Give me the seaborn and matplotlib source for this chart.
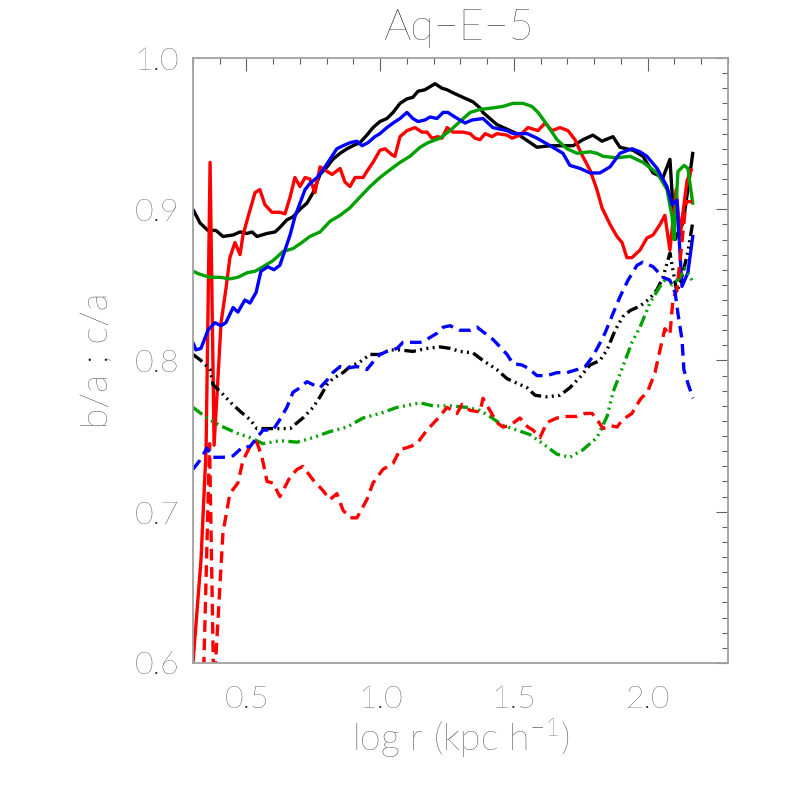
import numpy as np
import pandas as pd
import seaborn as sns
import matplotlib.pyplot as plt
from matplotlib.ticker import MultipleLocator, FormatStrFormatter

# b/a (solid) curves
bk_x = [0.300, 0.326, 0.356, 0.386, 0.412, 0.450, 0.476, 0.502, 0.521, 0.539, 0.577, 0.607, 0.625, 0.651,
        0.674, 0.700, 0.726, 0.749, 0.775, 0.801, 0.823, 0.850, 0.876, 0.898, 0.924, 0.950, 0.973, 0.999,
        1.025, 1.048, 1.074, 1.100, 1.122, 1.141, 1.167, 1.205, 1.231, 1.250, 1.272, 1.309, 1.347, 1.373,
        1.384, 1.436, 1.511, 1.586, 1.635, 1.721, 1.758, 1.795, 1.829, 1.870, 1.896, 1.945, 1.982, 2.020,
        2.057, 2.083, 2.102, 2.132, 2.150, 2.169]
bk_y = [0.900, 0.891, 0.886, 0.886, 0.882, 0.883, 0.885, 0.884, 0.885, 0.882, 0.884, 0.885, 0.888, 0.893,
        0.895, 0.900, 0.904, 0.911, 0.923, 0.928, 0.933, 0.937, 0.940, 0.942, 0.944, 0.949, 0.954, 0.958,
        0.960, 0.964, 0.970, 0.973, 0.974, 0.978, 0.979, 0.983, 0.980, 0.979, 0.977, 0.974, 0.971, 0.967,
        0.964, 0.956, 0.950, 0.941, 0.942, 0.942, 0.946, 0.949, 0.945, 0.948, 0.941, 0.939, 0.935, 0.924,
        0.921, 0.933, 0.880, 0.891, 0.913, 0.938]

bl_x = [0.300, 0.311, 0.330, 0.356, 0.382, 0.405, 0.423, 0.450, 0.468, 0.494, 0.513, 0.536, 0.554, 0.580,
        0.603, 0.625, 0.644, 0.663, 0.681, 0.700, 0.719, 0.737, 0.764, 0.786, 0.812, 0.838, 0.861, 0.887,
        0.913, 0.932, 0.954, 0.980, 0.999, 1.025, 1.048, 1.074, 1.100, 1.122, 1.141, 1.167, 1.186, 1.212,
        1.235, 1.253, 1.279, 1.317, 1.343, 1.384, 1.421, 1.474, 1.496, 1.549, 1.586, 1.635, 1.683, 1.709,
        1.747, 1.784, 1.821, 1.859, 1.896, 1.941, 1.971, 1.997, 2.035, 2.072, 2.091, 2.109, 2.128, 2.150,
        2.169]
bl_y = [0.812, 0.807, 0.808, 0.820, 0.825, 0.823, 0.825, 0.835, 0.832, 0.840, 0.838, 0.845, 0.859, 0.862,
        0.860, 0.863, 0.873, 0.883, 0.895, 0.904, 0.913, 0.917, 0.921, 0.926, 0.933, 0.940, 0.942, 0.944,
        0.945, 0.942, 0.944, 0.948, 0.950, 0.954, 0.957, 0.960, 0.964, 0.960, 0.958, 0.959, 0.961, 0.960,
        0.964, 0.964, 0.961, 0.957, 0.959, 0.960, 0.954, 0.952, 0.950, 0.950, 0.947, 0.942, 0.937, 0.929,
        0.927, 0.924, 0.924, 0.928, 0.937, 0.940, 0.938, 0.935, 0.927, 0.915, 0.903, 0.906, 0.849, 0.858,
        0.883]

gr_x = [0.300, 0.326, 0.364, 0.401, 0.438, 0.468, 0.502, 0.532, 0.562, 0.599, 0.636, 0.674, 0.707, 0.737,
        0.775, 0.812, 0.850, 0.887, 0.924, 0.962, 0.999, 1.036, 1.074, 1.111, 1.149, 1.178, 1.223, 1.261,
        1.298, 1.336, 1.373, 1.421, 1.459, 1.496, 1.534, 1.567, 1.590, 1.623, 1.661, 1.698, 1.736, 1.784,
        1.810, 1.833, 1.885, 1.934, 1.982, 2.035, 2.072, 2.091, 2.098, 2.113, 2.136, 2.150, 2.169]
gr_y = [0.859, 0.857, 0.855, 0.855, 0.854, 0.855, 0.858, 0.859, 0.862, 0.866, 0.872, 0.874, 0.878, 0.882,
        0.885, 0.892, 0.896, 0.901, 0.908, 0.915, 0.921, 0.926, 0.931, 0.935, 0.941, 0.944, 0.947, 0.952,
        0.958, 0.964, 0.966, 0.967, 0.968, 0.970, 0.970, 0.968, 0.964, 0.956, 0.946, 0.940, 0.937, 0.938,
        0.937, 0.935, 0.934, 0.935, 0.931, 0.924, 0.913, 0.895, 0.880, 0.925, 0.929, 0.927, 0.903]

rd_x = [0.300, 0.330, 0.349, 0.364, 0.379, 0.393, 0.405, 0.423, 0.438, 0.457, 0.476, 0.487, 0.506, 0.532,
        0.550, 0.569, 0.595, 0.625, 0.644, 0.663, 0.681, 0.700, 0.719, 0.737, 0.756, 0.775, 0.793, 0.820,
        0.850, 0.868, 0.887, 0.906, 0.936, 0.950, 0.973, 0.999, 1.018, 1.044, 1.055, 1.074, 1.100, 1.130,
        1.156, 1.175, 1.193, 1.216, 1.231, 1.250, 1.272, 1.309, 1.336, 1.354, 1.373, 1.392, 1.418, 1.436,
        1.474, 1.493, 1.522, 1.552, 1.590, 1.616, 1.642, 1.672, 1.702, 1.728, 1.754, 1.784, 1.810, 1.829,
        1.859, 1.885, 1.904, 1.922, 1.941, 1.971, 1.997, 2.020, 2.046, 2.064, 2.083, 2.106, 2.121, 2.147,
        2.165]
rd_y = [0.600, 0.668, 0.741, 0.931, 0.744, 0.787, 0.825, 0.847, 0.868, 0.878, 0.870, 0.883, 0.895, 0.911,
        0.913, 0.903, 0.898, 0.898, 0.897, 0.908, 0.921, 0.915, 0.921, 0.920, 0.911, 0.928, 0.926, 0.923,
        0.927, 0.918, 0.915, 0.921, 0.921, 0.925, 0.931, 0.939, 0.940, 0.936, 0.935, 0.948, 0.952, 0.954,
        0.951, 0.951, 0.947, 0.948, 0.947, 0.954, 0.951, 0.951, 0.950, 0.947, 0.946, 0.950, 0.948, 0.950,
        0.949, 0.947, 0.949, 0.954, 0.952, 0.957, 0.952, 0.954, 0.952, 0.946, 0.936, 0.926, 0.913, 0.901,
        0.890, 0.882, 0.878, 0.868, 0.868, 0.873, 0.881, 0.883, 0.890, 0.896, 0.873, 0.913, 0.883, 0.919,
        0.927]

# c/a (broken) curves
bkc_x = [0.300, 0.330, 0.364, 0.375, 0.405, 0.442, 0.479, 0.513, 0.539, 0.599, 0.663, 0.711, 0.749, 0.775,
         0.801, 0.823, 0.861, 0.887, 0.924, 0.962, 0.999, 1.036, 1.074, 1.122, 1.175, 1.223, 1.261, 1.298,
         1.347, 1.384, 1.436, 1.474, 1.511, 1.549, 1.579, 1.623, 1.672, 1.709, 1.747, 1.784, 1.821, 1.848,
         1.878, 1.907, 1.934, 1.971, 2.008, 2.035, 2.057, 2.083, 2.109, 2.132, 2.150, 2.169]
bkc_y = [0.804, 0.800, 0.794, 0.784, 0.779, 0.772, 0.766, 0.761, 0.755, 0.755, 0.755, 0.762, 0.769, 0.776,
         0.784, 0.788, 0.792, 0.796, 0.799, 0.804, 0.804, 0.807, 0.807, 0.806, 0.808, 0.809, 0.808, 0.806,
         0.805, 0.800, 0.794, 0.788, 0.785, 0.782, 0.777, 0.776, 0.777, 0.782, 0.789, 0.797, 0.800, 0.807,
         0.820, 0.829, 0.833, 0.836, 0.841, 0.847, 0.855, 0.871, 0.845, 0.858, 0.872, 0.892]

blc_x = [0.300, 0.326, 0.352, 0.375, 0.412, 0.450, 0.487, 0.513, 0.539, 0.562, 0.599, 0.625, 0.651, 0.674,
         0.700, 0.726, 0.749, 0.775, 0.801, 0.823, 0.850, 0.876, 0.913, 0.950, 0.973, 0.999, 1.025, 1.063,
         1.085, 1.111, 1.149, 1.175, 1.212, 1.235, 1.261, 1.298, 1.336, 1.362, 1.399, 1.421, 1.448, 1.474,
         1.496, 1.530, 1.552, 1.586, 1.623, 1.661, 1.698, 1.736, 1.766, 1.792, 1.814, 1.840, 1.870, 1.896,
         1.926, 1.960, 1.982, 2.020, 2.057, 2.083, 2.102, 2.113, 2.128, 2.135, 2.150, 2.169]
blc_y = [0.728, 0.734, 0.742, 0.736, 0.736, 0.737, 0.743, 0.743, 0.749, 0.754, 0.754, 0.761, 0.769, 0.779,
         0.782, 0.786, 0.784, 0.782, 0.787, 0.792, 0.796, 0.795, 0.796, 0.794, 0.799, 0.804, 0.806, 0.808,
         0.812, 0.812, 0.812, 0.814, 0.818, 0.822, 0.823, 0.820, 0.820, 0.822, 0.817, 0.814, 0.809, 0.804,
         0.798, 0.797, 0.795, 0.790, 0.790, 0.792, 0.792, 0.794, 0.796, 0.802, 0.809, 0.818, 0.831, 0.842,
         0.853, 0.863, 0.865, 0.862, 0.855, 0.853, 0.845, 0.831, 0.814, 0.794, 0.785, 0.775]

grc_x = [0.300, 0.352, 0.401, 0.464, 0.513, 0.562, 0.625, 0.689, 0.749, 0.812, 0.876, 0.936, 0.999, 1.063,
         1.149, 1.197, 1.261, 1.324, 1.373, 1.410, 1.459, 1.511, 1.560, 1.608, 1.661, 1.709, 1.758, 1.810,
         1.848, 1.870, 1.907, 1.941, 1.971, 2.008, 2.046, 2.072, 2.091, 2.121, 2.139, 2.169]
grc_y = [0.769, 0.762, 0.757, 0.752, 0.749, 0.745, 0.747, 0.746, 0.749, 0.753, 0.756, 0.762, 0.765, 0.769,
         0.772, 0.770, 0.770, 0.769, 0.767, 0.763, 0.757, 0.754, 0.751, 0.745, 0.738, 0.736, 0.741, 0.749,
         0.763, 0.779, 0.796, 0.812, 0.822, 0.838, 0.849, 0.855, 0.850, 0.855, 0.861, 0.852]

rdc_x = [0.335, 0.362, 0.378, 0.412, 0.438, 0.468, 0.487, 0.513, 0.539, 0.558, 0.577, 0.599, 0.625, 0.663,
         0.689, 0.711, 0.749, 0.786, 0.812, 0.838, 0.861, 0.887, 0.913, 0.950, 0.973, 1.010, 1.048, 1.074,
         1.111, 1.137, 1.175, 1.212, 1.250, 1.287, 1.306, 1.336, 1.373, 1.384, 1.410, 1.436, 1.459, 1.485,
         1.522, 1.552, 1.571, 1.597, 1.623, 1.661, 1.698, 1.736, 1.766, 1.792, 1.810, 1.833, 1.859, 1.885,
         1.907, 1.941, 1.971, 2.001, 2.027, 2.046, 2.064, 2.083, 2.094, 2.109, 2.128, 2.143, 2.165]
rdc_y = [0.560, 0.745, 0.580, 0.686, 0.712, 0.719, 0.734, 0.743, 0.746, 0.736, 0.720, 0.719, 0.710, 0.723,
         0.728, 0.730, 0.721, 0.714, 0.708, 0.712, 0.701, 0.696, 0.696, 0.708, 0.719, 0.728, 0.732, 0.741,
         0.743, 0.745, 0.754, 0.761, 0.769, 0.765, 0.771, 0.767, 0.766, 0.775, 0.767, 0.759, 0.756, 0.757,
         0.762, 0.756, 0.754, 0.749, 0.759, 0.762, 0.763, 0.763, 0.765, 0.765, 0.761, 0.755, 0.757, 0.756,
         0.761, 0.765, 0.774, 0.780, 0.792, 0.807, 0.821, 0.817, 0.840, 0.847, 0.878, 0.905, 0.905]

GREEN = "#00a000"
DASH = (3.5, 2.0)
DASH3DOT = (3.5, 1.3, 0.6, 1.3, 0.6, 1.3, 0.6, 1.3)

series = [
    (bk_x, bk_y, "black", None),
    (rd_x, rd_y, "red", None),
    (gr_x, gr_y, GREEN, None),
    (bl_x, bl_y, "blue", None),
    (bkc_x, bkc_y, "black", DASH3DOT),
    (grc_x, grc_y, GREEN, DASH3DOT),
    (rdc_x, rdc_y, "red", DASH),
    (blc_x, blc_y, "blue", DASH),
]

sns.set_style("white")
# thin font to look like the IDL vector font
plt.rcParams['font.family'] = ['Lato', 'DejaVu Sans']
plt.rcParams['font.weight'] = 'light'
plt.rcParams['axes.labelweight'] = 'light'
plt.rcParams['mathtext.fontset'] = 'custom'
plt.rcParams['mathtext.rm'] = 'Lato:light'
plt.rcParams['mathtext.it'] = 'Lato:light'
txt = "#1e1e1e"

fig = plt.figure(figsize=(7.86, 7.86), dpi=100)
ax = fig.add_axes([0.2455, 0.1565, 0.6807, 0.7697])

for x, y, c, dash in series:
    sns.lineplot(x=x, y=y, color=c, linewidth=2.4, sort=False, estimator=None, ax=ax)
    line = ax.lines[-1]
    line.set_solid_capstyle("butt")
    line.set_dash_capstyle("butt")
    if dash is not None:
        line.set_dashes(dash)

ax.set_xlim(0.3, 2.3)
ax.set_ylim(0.6, 1.0)
ax.xaxis.set_major_locator(MultipleLocator(0.5))
ax.xaxis.set_minor_locator(MultipleLocator(0.1))
ax.yaxis.set_major_locator(MultipleLocator(0.1))
ax.yaxis.set_minor_locator(MultipleLocator(0.01))
ax.xaxis.set_major_formatter(FormatStrFormatter('%.1f'))
ax.yaxis.set_major_formatter(FormatStrFormatter('%.1f'))

ax.tick_params(which='both', direction='in', top=True, right=True,
               color='#606060', width=0.8, labelcolor=txt, labelsize=23)
ax.tick_params(which='major', length=9)
ax.tick_params(which='minor', length=4.5)
ax.tick_params(axis='x', pad=16)
ax.tick_params(axis='y', pad=10)

for s in ax.spines.values():
    s.set_color('#a0a0a0')
    s.set_linewidth(1.3)

ax.set_xlabel("log r (kpc h$^{-1}$)", fontsize=27, color=txt, labelpad=2)
ax.set_ylabel("b/a ; c/a", fontsize=27, color=txt, labelpad=14)
fig.text(0.583, 0.964, "Aq\u2212E\u22125", fontsize=31, color=txt, ha='center', va='center')

fig.savefig("out.png", dpi=100, facecolor="white")
